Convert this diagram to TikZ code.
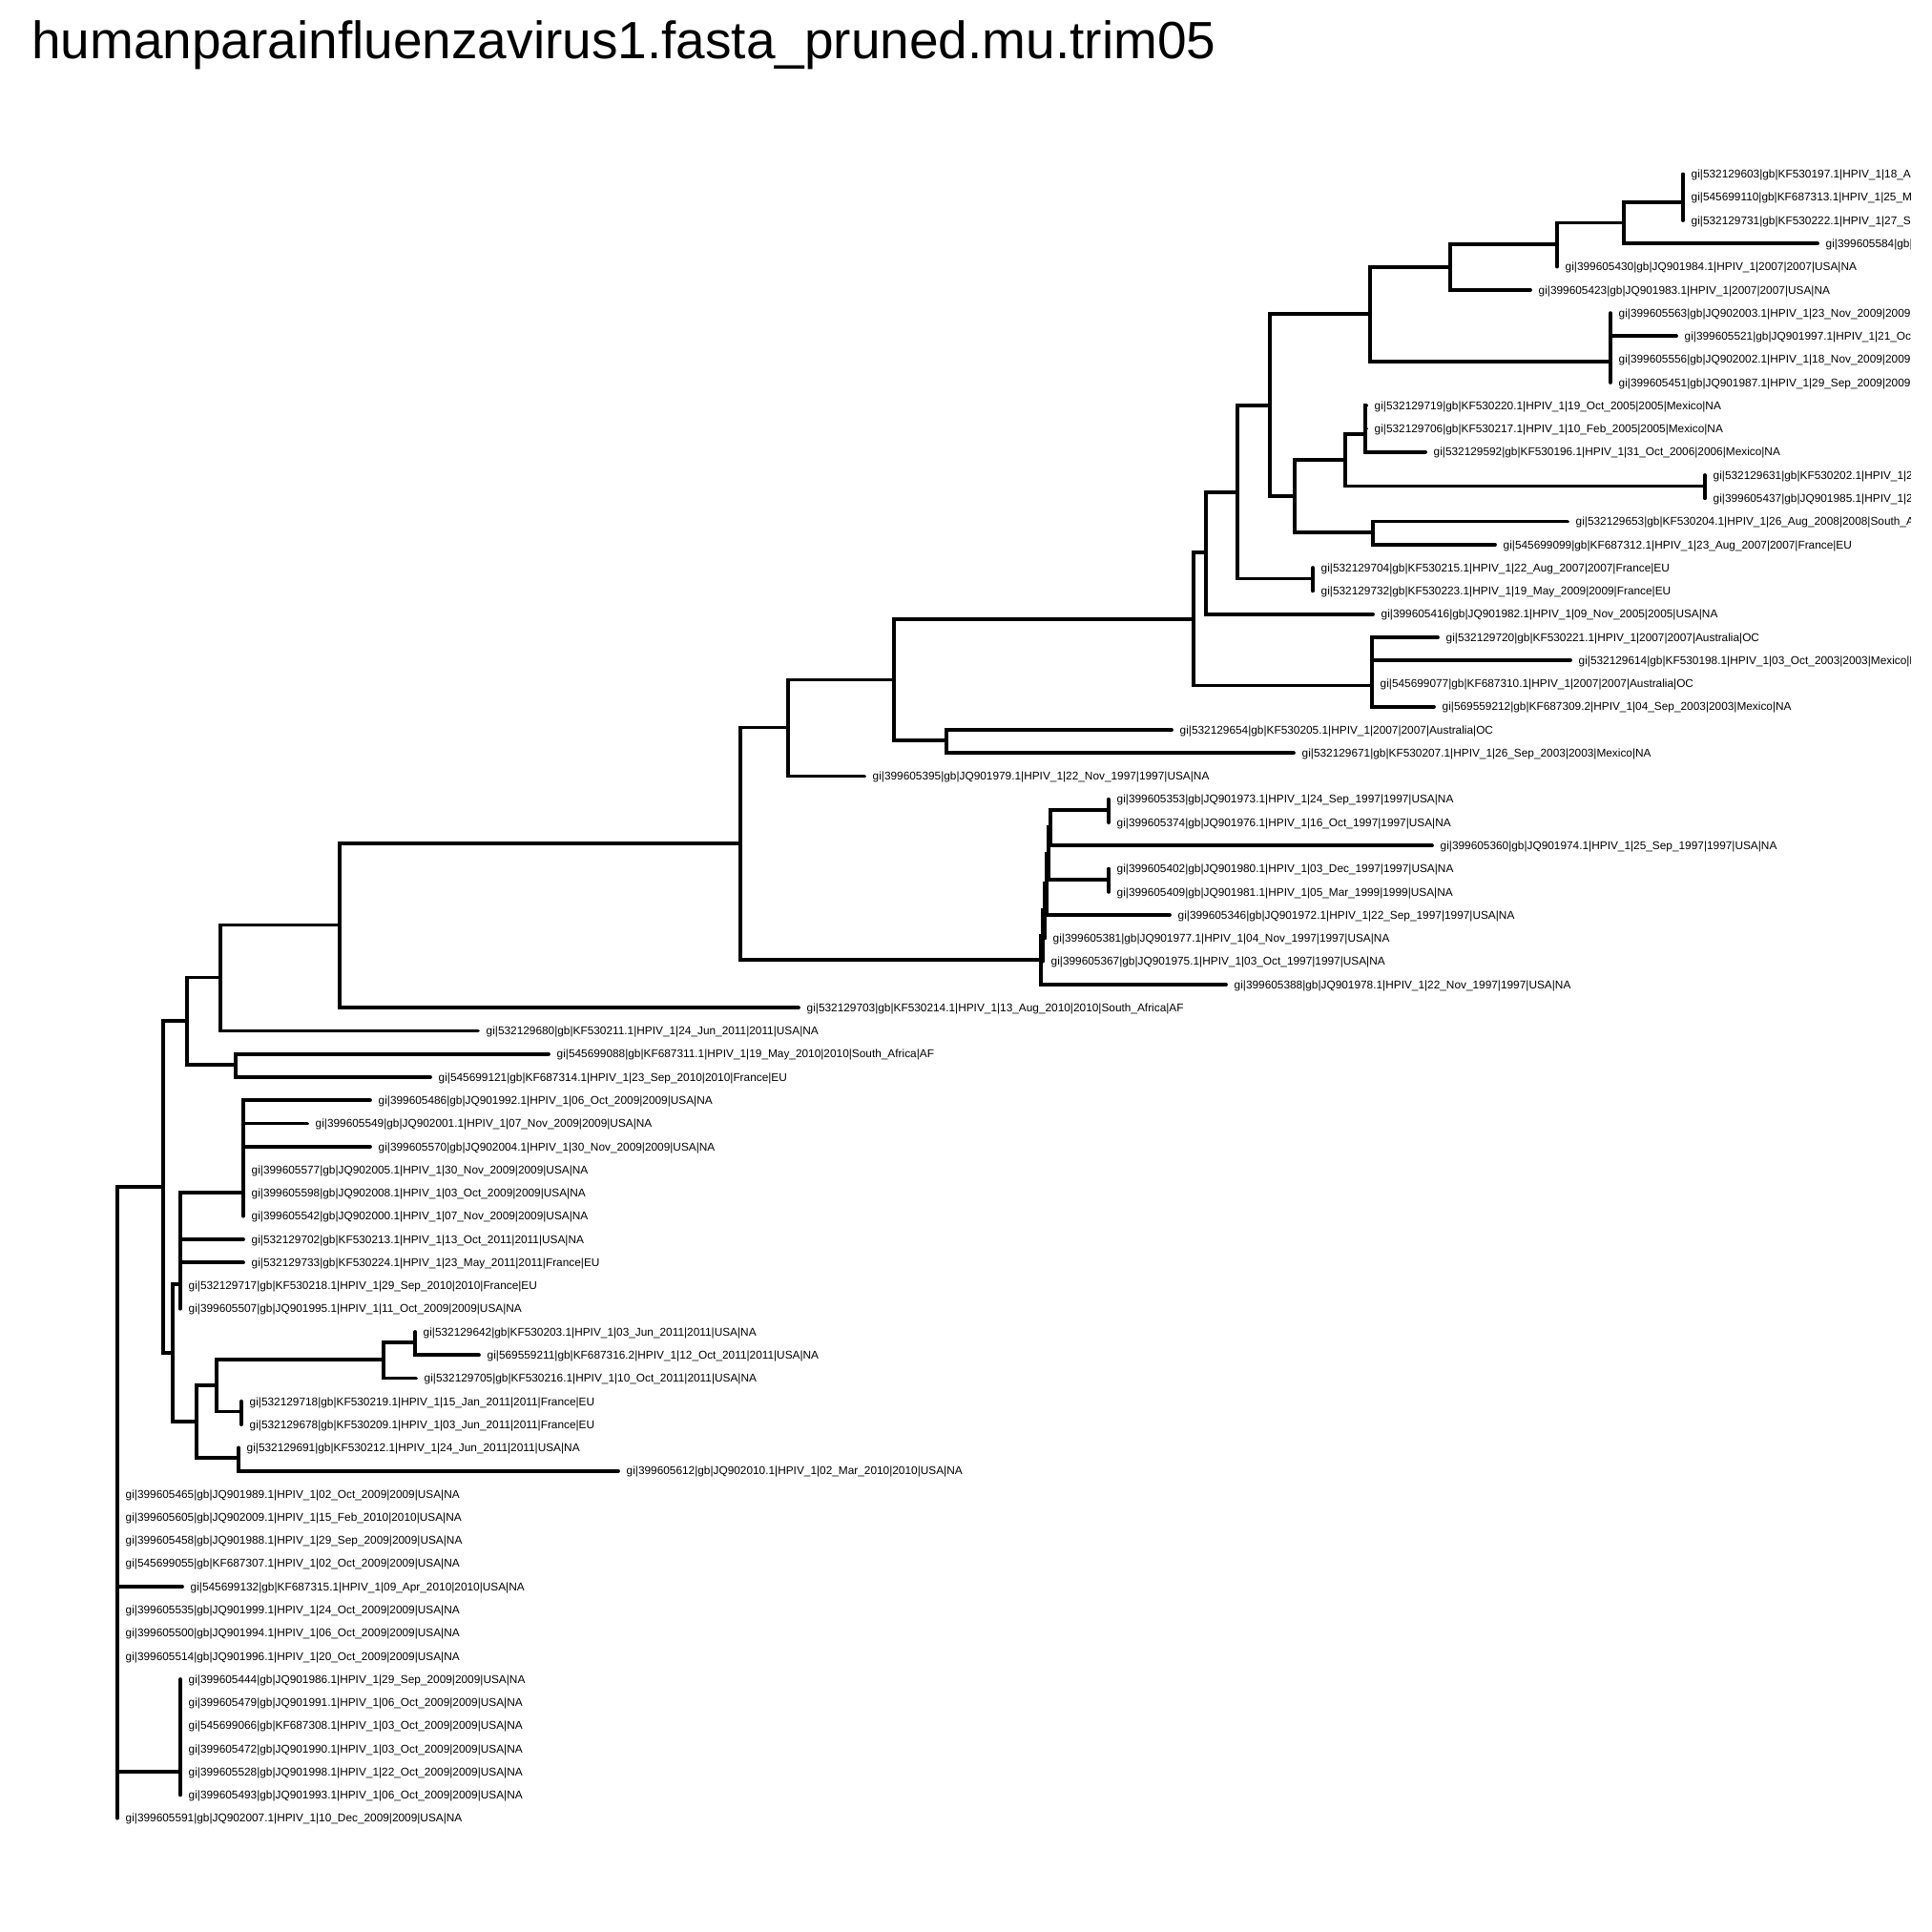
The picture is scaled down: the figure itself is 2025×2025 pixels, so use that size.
\documentclass[tikz,border=0pt]{standalone}
\usepackage{fontspec}
\setmainfont{Liberation Sans}
\begin{document}
\begin{tikzpicture}[x=1pt,y=-1pt,line cap=round,branch/.style={line width=3.8pt},
  lab/.style={anchor=base west,inner sep=0pt,xshift=8.5pt,yshift=-4.2pt,font=\fontsize{11.85}{14}\selectfont}]
\path[fill=white,use as bounding box] (0,0) rectangle (2025,2025);
\node[anchor=base west,inner sep=0pt,font=\fontsize{55}{60}\selectfont] (title) at (33,62) {humanparainfluenzavirus1.fasta\_pruned.mu.trim05};
\begin{scope}
\clip (0,0) rectangle (2002,2025);
\foreach \i/\x/\t in {
1/1764/gi|532129603|gb|KF530197.1|HPIV\_1|18\_A,
2/1764/gi|545699110|gb|KF687313.1|HPIV\_1|25\_M,
3/1764/gi|532129731|gb|KF530222.1|HPIV\_1|27\_S,
4/1905/gi|399605584|gb|,
5/1632/gi|399605430|gb|JQ901984.1|HPIV\_1|2007|2007|USA|NA,
6/1604/gi|399605423|gb|JQ901983.1|HPIV\_1|2007|2007|USA|NA,
7/1688/gi|399605563|gb|JQ902003.1|HPIV\_1|23\_Nov\_2009|2009,
8/1757/gi|399605521|gb|JQ901997.1|HPIV\_1|21\_Oc,
9/1688/gi|399605556|gb|JQ902002.1|HPIV\_1|18\_Nov\_2009|2009,
10/1688/gi|399605451|gb|JQ901987.1|HPIV\_1|29\_Sep\_2009|2009,
11/1432/gi|532129719|gb|KF530220.1|HPIV\_1|19\_Oct\_2005|2005|Mexico|NA,
12/1432/gi|532129706|gb|KF530217.1|HPIV\_1|10\_Feb\_2005|2005|Mexico|NA,
13/1494/gi|532129592|gb|KF530196.1|HPIV\_1|31\_Oct\_2006|2006|Mexico|NA,
14/1787/gi|532129631|gb|KF530202.1|HPIV\_1|2,
15/1787/gi|399605437|gb|JQ901985.1|HPIV\_1|2,
16/1643/gi|532129653|gb|KF530204.1|HPIV\_1|26\_Aug\_2008|2008|South\_A,
17/1567/gi|545699099|gb|KF687312.1|HPIV\_1|23\_Aug\_2007|2007|France|EU,
18/1376/gi|532129704|gb|KF530215.1|HPIV\_1|22\_Aug\_2007|2007|France|EU,
19/1376/gi|532129732|gb|KF530223.1|HPIV\_1|19\_May\_2009|2009|France|EU,
20/1439/gi|399605416|gb|JQ901982.1|HPIV\_1|09\_Nov\_2005|2005|USA|NA,
21/1507/gi|532129720|gb|KF530221.1|HPIV\_1|2007|2007|Australia|OC,
22/1646/gi|532129614|gb|KF530198.1|HPIV\_1|03\_Oct\_2003|2003|Mexico|N,
23/1438/gi|545699077|gb|KF687310.1|HPIV\_1|2007|2007|Australia|OC,
24/1503/gi|569559212|gb|KF687309.2|HPIV\_1|04\_Sep\_2003|2003|Mexico|NA,
25/1228/gi|532129654|gb|KF530205.1|HPIV\_1|2007|2007|Australia|OC,
26/1356/gi|532129671|gb|KF530207.1|HPIV\_1|26\_Sep\_2003|2003|Mexico|NA,
27/906/gi|399605395|gb|JQ901979.1|HPIV\_1|22\_Nov\_1997|1997|USA|NA,
28/1162/gi|399605353|gb|JQ901973.1|HPIV\_1|24\_Sep\_1997|1997|USA|NA,
29/1162/gi|399605374|gb|JQ901976.1|HPIV\_1|16\_Oct\_1997|1997|USA|NA,
30/1501/gi|399605360|gb|JQ901974.1|HPIV\_1|25\_Sep\_1997|1997|USA|NA,
31/1162/gi|399605402|gb|JQ901980.1|HPIV\_1|03\_Dec\_1997|1997|USA|NA,
32/1162/gi|399605409|gb|JQ901981.1|HPIV\_1|05\_Mar\_1999|1999|USA|NA,
33/1226/gi|399605346|gb|JQ901972.1|HPIV\_1|22\_Sep\_1997|1997|USA|NA,
34/1095/gi|399605381|gb|JQ901977.1|HPIV\_1|04\_Nov\_1997|1997|USA|NA,
35/1093/gi|399605367|gb|JQ901975.1|HPIV\_1|03\_Oct\_1997|1997|USA|NA,
36/1285/gi|399605388|gb|JQ901978.1|HPIV\_1|22\_Nov\_1997|1997|USA|NA,
37/837/gi|532129703|gb|KF530214.1|HPIV\_1|13\_Aug\_2010|2010|South\_Africa|AF,
38/501/gi|532129680|gb|KF530211.1|HPIV\_1|24\_Jun\_2011|2011|USA|NA,
39/575/gi|545699088|gb|KF687311.1|HPIV\_1|19\_May\_2010|2010|South\_Africa|AF,
40/451/gi|545699121|gb|KF687314.1|HPIV\_1|23\_Sep\_2010|2010|France|EU,
41/388/gi|399605486|gb|JQ901992.1|HPIV\_1|06\_Oct\_2009|2009|USA|NA,
42/322/gi|399605549|gb|JQ902001.1|HPIV\_1|07\_Nov\_2009|2009|USA|NA,
43/388/gi|399605570|gb|JQ902004.1|HPIV\_1|30\_Nov\_2009|2009|USA|NA,
44/255/gi|399605577|gb|JQ902005.1|HPIV\_1|30\_Nov\_2009|2009|USA|NA,
45/255/gi|399605598|gb|JQ902008.1|HPIV\_1|03\_Oct\_2009|2009|USA|NA,
46/255/gi|399605542|gb|JQ902000.1|HPIV\_1|07\_Nov\_2009|2009|USA|NA,
47/255/gi|532129702|gb|KF530213.1|HPIV\_1|13\_Oct\_2011|2011|USA|NA,
48/255/gi|532129733|gb|KF530224.1|HPIV\_1|23\_May\_2011|2011|France|EU,
49/189/gi|532129717|gb|KF530218.1|HPIV\_1|29\_Sep\_2010|2010|France|EU,
50/189/gi|399605507|gb|JQ901995.1|HPIV\_1|11\_Oct\_2009|2009|USA|NA,
51/435/gi|532129642|gb|KF530203.1|HPIV\_1|03\_Jun\_2011|2011|USA|NA,
52/502/gi|569559211|gb|KF687316.2|HPIV\_1|12\_Oct\_2011|2011|USA|NA,
53/436/gi|532129705|gb|KF530216.1|HPIV\_1|10\_Oct\_2011|2011|USA|NA,
54/253/gi|532129718|gb|KF530219.1|HPIV\_1|15\_Jan\_2011|2011|France|EU,
55/253/gi|532129678|gb|KF530209.1|HPIV\_1|03\_Jun\_2011|2011|France|EU,
56/250/gi|532129691|gb|KF530212.1|HPIV\_1|24\_Jun\_2011|2011|USA|NA,
57/648/gi|399605612|gb|JQ902010.1|HPIV\_1|02\_Mar\_2010|2010|USA|NA,
58/123/gi|399605465|gb|JQ901989.1|HPIV\_1|02\_Oct\_2009|2009|USA|NA,
59/123/gi|399605605|gb|JQ902009.1|HPIV\_1|15\_Feb\_2010|2010|USA|NA,
60/123/gi|399605458|gb|JQ901988.1|HPIV\_1|29\_Sep\_2009|2009|USA|NA,
61/123/gi|545699055|gb|KF687307.1|HPIV\_1|02\_Oct\_2009|2009|USA|NA,
62/191/gi|545699132|gb|KF687315.1|HPIV\_1|09\_Apr\_2010|2010|USA|NA,
63/123/gi|399605535|gb|JQ901999.1|HPIV\_1|24\_Oct\_2009|2009|USA|NA,
64/123/gi|399605500|gb|JQ901994.1|HPIV\_1|06\_Oct\_2009|2009|USA|NA,
65/123/gi|399605514|gb|JQ901996.1|HPIV\_1|20\_Oct\_2009|2009|USA|NA,
66/189/gi|399605444|gb|JQ901986.1|HPIV\_1|29\_Sep\_2009|2009|USA|NA,
67/189/gi|399605479|gb|JQ901991.1|HPIV\_1|06\_Oct\_2009|2009|USA|NA,
68/189/gi|545699066|gb|KF687308.1|HPIV\_1|03\_Oct\_2009|2009|USA|NA,
69/189/gi|399605472|gb|JQ901990.1|HPIV\_1|03\_Oct\_2009|2009|USA|NA,
70/189/gi|399605528|gb|JQ901998.1|HPIV\_1|22\_Oct\_2009|2009|USA|NA,
71/189/gi|399605493|gb|JQ901993.1|HPIV\_1|06\_Oct\_2009|2009|USA|NA,
72/123/gi|399605591|gb|JQ902007.1|HPIV\_1|10\_Dec\_2009|2009|USA|NA}
{\coordinate (t\i) at (\x,{182.5+(\i-1)*24.27}); \node[lab] (l\i) at (t\i) {\t};}
\end{scope}
% internal nodes
\coordinate (a1) at (1764,212.3);\coordinate (a2) at (1702,233.5);\coordinate (a3) at (1632,256.3);\coordinate (a4) at (1520,279.8);
\coordinate (a5) at (1688,379);\coordinate (a6) at (1436,329.4);
\coordinate (b1) at (1431,454.8);\coordinate (b2) at (1787,509.4);\coordinate (b3) at (1410,482.1);\coordinate (b4) at (1439,557.9);
\coordinate (b5) at (1357,520);\coordinate (b6) at (1331,424.7);
\coordinate (c1) at (1376,606.4);\coordinate (c2) at (1297,515.6);\coordinate (c3) at (1264,579.2);\coordinate (c4) at (1438,718.5);
\coordinate (c5) at (1251,648.8);\coordinate (c6) at (992,776.1);\coordinate (c7) at (937,712.5);\coordinate (c8) at (826,762.5);
\coordinate (d1) at (1162,848.9);\coordinate (d2) at (1101,867.1);\coordinate (d3) at (1162,921.6);\coordinate (d4) at (1099,894.4);
\coordinate (d5) at (1097,926.2);\coordinate (d6) at (1095,954.2);\coordinate (d7) at (1093,980.4);\coordinate (d8) at (1091,1005.6);
\coordinate (e1) at (776,884);\coordinate (e2) at (356,969.5);\coordinate (e3) at (231,1024.4);\coordinate (e4) at (247,1115.6);\coordinate (e5) at (196,1070);
\coordinate (f1) at (255,1249.8);\coordinate (f2) at (189,1346.1);
\coordinate (g1) at (435,1406.6);\coordinate (g2) at (402,1424.8);\coordinate (g3) at (253,1479.4);\coordinate (g4) at (227,1452.1);
\coordinate (g5) at (250,1527.9);\coordinate (g6) at (206,1490);\coordinate (g7) at (181,1418);
\coordinate (p1) at (171,1244);\coordinate (h1) at (189,1856.6);\coordinate (root) at (123,1244);
\foreach \p/\c in {a1/t1,a1/t2,a1/t3,a2/a1,a2/t4,a3/a2,a3/t5,a4/a3,a4/t6,a5/t7,a5/t8,a5/t9,a5/t10,a6/a4,a6/a5,
  b1/t11,b1/t12,b1/t13,b2/t14,b2/t15,b3/b1,b3/b2,b4/t16,b4/t17,b5/b3,b5/b4,b6/a6,b6/b5,
  c1/t18,c1/t19,c2/b6,c2/c1,c3/c2,c3/t20,c4/t21,c4/t22,c4/t23,c4/t24,c5/c3,c5/c4,c6/t25,c6/t26,c7/c5,c7/c6,c8/c7,c8/t27,
  d1/t28,d1/t29,d2/d1,d2/t30,d3/t31,d3/t32,d4/d2,d4/d3,d5/d4,d5/t33,d6/d5,d6/t34,d7/d6,d7/t35,d8/d7,d8/t36,
  e1/c8,e1/d8,e2/e1,e2/t37,e3/e2,e3/t38,e4/t39,e4/t40,e5/e3,e5/e4,
  f1/t41,f1/t42,f1/t43,f1/t44,f1/t45,f1/t46,f2/f1,f2/t47,f2/t48,f2/t49,f2/t50,
  g1/t51,g1/t52,g2/g1,g2/t53,g3/t54,g3/t55,g4/g2,g4/g3,g5/t56,g5/t57,g6/g4,g6/g5,g7/f2,g7/g6,
  p1/e5,p1/g7,h1/t66,h1/t67,h1/t68,h1/t69,h1/t70,h1/t71,
  root/p1,root/t58,root/t59,root/t60,root/t61,root/t62,root/t63,root/t64,root/t65,root/h1,root/t72}
{\draw[branch] (\p) |- (\c);}
\end{tikzpicture}
\end{document}
